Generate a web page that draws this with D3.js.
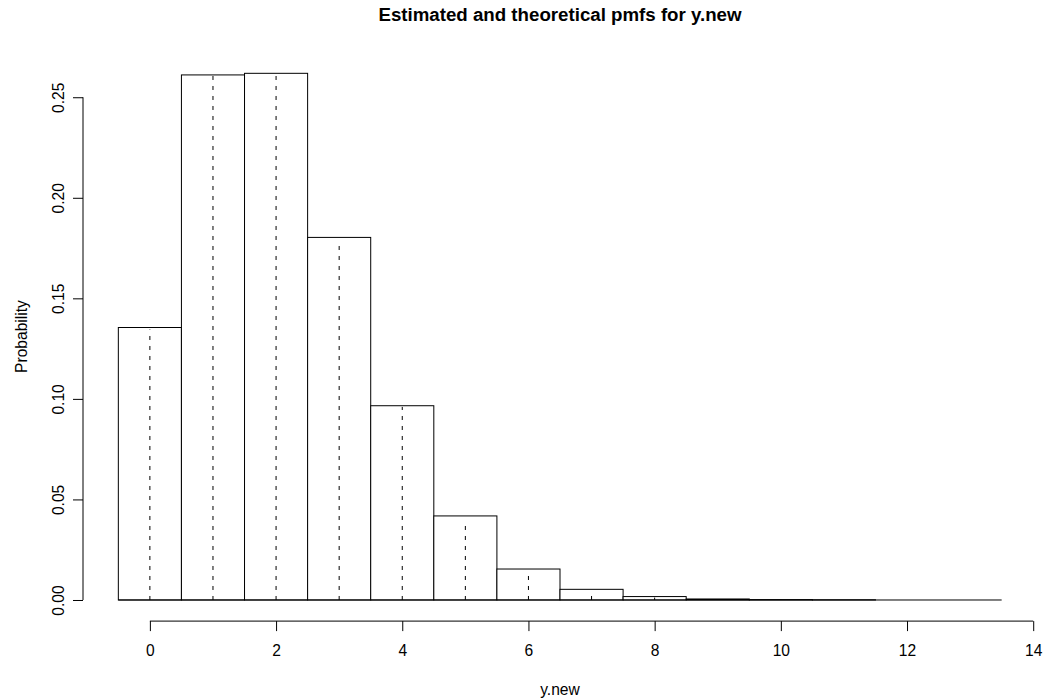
<!DOCTYPE html>
<html>
<head>
<meta charset="utf-8">
<script src="https://cdn.jsdelivr.net/npm/d3@7"></script>
<style>
  body { margin: 0; background: #fff; }
  svg { display: block; font-family: 'Liberation Sans', Arial, sans-serif; }
  .axis text { font-family: 'Liberation Sans', Arial, sans-serif; font-size: 15.6px; fill: #000; }
</style>
</head>
<body>
<svg id="chart" width="1047" height="700"></svg>
<script>
// values
const counts = [0, 1, 2, 3, 4, 5, 6, 7, 8, 9, 10, 11, 12, 13];
const estimated = [0.1355, 0.2611, 0.2619, 0.1803, 0.0966, 0.0418, 0.0154, 0.0053, 0.0017, 0.0005, 0.0002, 0.0001, 0, 0];
const theoretical = [0.1345, 0.2610, 0.2618, 0.1775, 0.0960, 0.0390, 0.0124, 0.0035, 0.0012, 0.0003, 0.0001, 0, 0, 0];
const x_ticks = [0, 2, 4, 6, 8, 10, 12, 14];
const y_ticks = [0, 0.05, 0.10, 0.15, 0.20, 0.25];

const svg = d3.select('#chart');

// plot region, R style (4% padding on both axes)
const x = d3.scaleLinear().domain([-1.06, 14.06]).range([83, 1037]);
const y = d3.scaleLinear().domain([-0.0105, 0.2725]).range([621.1, 52]);

const g = svg.append('g');

// histogram bars of the estimated pmf
g.selectAll('.bar')
  .data(counts)
  .join('rect')
  .attr('class', 'bar')
  .attr('x', d => x(d - 0.5))
  .attr('width', d => x(d + 0.5) - x(d - 0.5))
  .attr('y', (d, i) => y(estimated[i]))
  .attr('height', (d, i) => y(0) - y(estimated[i]))
  .attr('fill', '#fff')
  .attr('stroke', '#000')
  .attr('stroke-width', 1);

// bottom edge of the histogram (covers the empty bins too)
g.append('line')
  .attr('x1', x(counts[0] - 0.5))
  .attr('x2', x(counts[counts.length - 1] + 0.5))
  .attr('y1', y(0))
  .attr('y2', y(0))
  .attr('stroke', '#000');

// theoretical pmf as dashed spikes
g.selectAll('.spike')
  .data(counts.filter((d, i) => theoretical[i] > 0))
  .join('line')
  .attr('class', 'spike')
  .attr('x1', d => x(d))
  .attr('x2', d => x(d))
  .attr('y1', y(0))
  .attr('y2', d => y(theoretical[d]))
  .attr('stroke', '#000')
  .attr('stroke-width', 1)
  .attr('stroke-dasharray', '4,6');

// x axis at bottom of plot region
const axis_x = d3.axisBottom(x)
  .tickValues(x_ticks)
  .tickSize(10)
  .tickPadding(12)
  .tickFormat(d3.format('d'));

const gx = svg.append('g')
  .attr('class', 'axis axis-x')
  .attr('transform', `translate(0,${y.range()[0]})`)
  .call(axis_x);
gx.select('.domain')
  .attr('d', `M${x(0)},0H${x(14)}`)
  .attr('stroke', '#000');
gx.selectAll('.tick line').attr('stroke', '#000');
gx.selectAll('.tick text')
  .attr('y', 656 - y.range()[0])
  .attr('dy', null);

// y axis at left of plot region
const axis_y = d3.axisLeft(y)
  .tickValues(y_ticks)
  .tickSize(10)
  .tickFormat(d3.format('.2f'));

const gy = svg.append('g')
  .attr('class', 'axis axis-y')
  .attr('transform', `translate(${x.range()[0]},0)`)
  .call(axis_y);
gy.select('.domain')
  .attr('d', `M0,${y(0)}V${y(0.25)}`)
  .attr('stroke', '#000');
gy.selectAll('.tick line').attr('stroke', '#000');
gy.selectAll('.tick text')
  .attr('x', null)
  .attr('dy', null)
  .attr('text-anchor', 'middle')
  .attr('transform', `translate(${63.5 - x.range()[0]},0) rotate(-90)`);

const cx = (x.range()[0] + x.range()[1]) / 2;
const cy = (y.range()[0] + y.range()[1]) / 2;

svg.append('text')
  .attr('x', cx)
  .attr('y', 21)
  .attr('text-anchor', 'middle')
  .attr('font-size', 18.7)
  .attr('font-weight', 'bold')
  .text('Estimated and theoretical pmfs for y.new');

svg.append('text')
  .attr('x', cx)
  .attr('y', 694.5)
  .attr('text-anchor', 'middle')
  .attr('font-size', 15.6)
  .text('y.new');

svg.append('text')
  .attr('transform', `translate(27,${cy}) rotate(-90)`)
  .attr('text-anchor', 'middle')
  .attr('font-size', 15.6)
  .text('Probability');
</script>
</body>
</html>
